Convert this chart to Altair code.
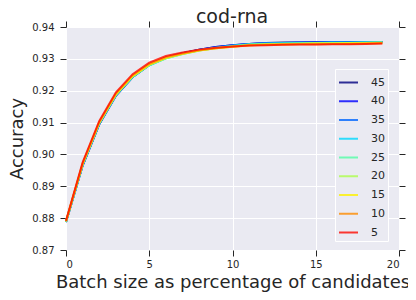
import altair as alt
import pandas as pd

title_text = "cod-rna"
x_vals = list(range(20))
series_names = ["45", "40", "35", "30", "25", "20", "15", "10", "5"]
colors = ["#000080", "#0000ff", "#0066ff", "#00d9ff", "#52ffa6", "#adff4d", "#fff200", "#ff8c00", "#ff0a00"]

s45 = [0.8788,0.8965,0.9095,0.9185,0.9243,0.9281,0.9304,0.9318,0.9329,0.9337,0.9343,0.9347,0.9350,0.9351,0.9351,0.9352,0.9352,0.9353,0.9353,0.9353]
s40 = [0.8788,0.8966,0.9096,0.9185,0.9243,0.9281,0.9304,0.9318,0.9329,0.9337,0.9343,0.9347,0.9349,0.9350,0.9351,0.9352,0.9352,0.9352,0.9353,0.9353]
s35 = [0.8788,0.8966,0.9096,0.9186,0.9243,0.9280,0.9303,0.9317,0.9328,0.9336,0.9342,0.9347,0.9349,0.9350,0.9351,0.9351,0.9352,0.9352,0.9352,0.9353]
s30 = [0.8788,0.8967,0.9097,0.9186,0.9243,0.9280,0.9302,0.9316,0.9327,0.9335,0.9341,0.9346,0.9348,0.9349,0.9350,0.9350,0.9351,0.9351,0.9352,0.9352]
s25 = [0.8789,0.8968,0.9098,0.9187,0.9244,0.9280,0.9302,0.9315,0.9326,0.9334,0.9340,0.9345,0.9347,0.9348,0.9349,0.9350,0.9350,0.9350,0.9351,0.9352]
s20 = [0.8789,0.8969,0.9099,0.9188,0.9245,0.9281,0.9302,0.9315,0.9326,0.9333,0.9339,0.9344,0.9346,0.9347,0.9348,0.9349,0.9349,0.9350,0.9350,0.9351]
s15 = [0.8790,0.8970,0.9100,0.9189,0.9246,0.9282,0.9303,0.9316,0.9326,0.9333,0.9338,0.9343,0.9345,0.9346,0.9347,0.9348,0.9348,0.9349,0.9349,0.9350]
s10 = [0.8790,0.8972,0.9102,0.9191,0.9248,0.9284,0.9305,0.9317,0.9327,0.9333,0.9338,0.9342,0.9344,0.9345,0.9346,0.9346,0.9347,0.9347,0.9348,0.9349]
s5  = [0.8792,0.8975,0.9105,0.9195,0.9252,0.9288,0.9309,0.9320,0.9329,0.9335,0.9339,0.9342,0.9343,0.9344,0.9345,0.9345,0.9346,0.9346,0.9347,0.9348]

all_series = [s45, s40, s35, s30, s25, s20, s15, s10, s5]
rows = []
for k, (name, vals) in enumerate(zip(series_names, all_series)):
    for xv, yv in zip(x_vals, vals):
        rows.append({"x": xv, "acc": yv, "series": name, "k": k})
df = pd.DataFrame(rows)

FONT = "DejaVu Sans"
TXT = "#262626"

xscale = alt.Scale(domain=[0, 20], nice=False)
yscale = alt.Scale(domain=[0.87, 0.94], nice=False, zero=False)

lines = alt.Chart(df).mark_line(strokeWidth=2, opacity=0.8).encode(
    x=alt.X("x:Q", scale=xscale,
            axis=alt.Axis(title="Batch size as percentage of candidates", values=[0, 5, 10, 15, 20],
                          format="d", tickSize=6, labelPadding=3, titlePadding=4)),
    y=alt.Y("acc:Q", scale=yscale,
            axis=alt.Axis(title="Accuracy", values=[0.87, 0.88, 0.89, 0.90, 0.91, 0.92, 0.93, 0.94],
                          format=".2f", tickSize=6, labelPadding=6, titlePadding=5)),
    color=alt.Color("series:N", sort=series_names,
                    scale=alt.Scale(domain=series_names, range=colors),
                    legend=alt.Legend(title=None, orient="none", legendX=269, legendY=42,
                                      fillColor="#EAEAF2", strokeColor="white", padding=3,
                                      symbolType="stroke", symbolStrokeWidth=2, symbolSize=361,
                                      symbolOpacity=0.8, labelFontSize=11, labelOffset=12,
                                      rowPadding=2.75, labelColor=TXT, labelFont=FONT)),
    detail="series:N",
    order=alt.Order("x:Q"),
)

frame = alt.Chart(df).mark_point(opacity=0).encode(
    x=alt.X("x:Q", scale=xscale,
            axis=alt.Axis(orient="top", title=None, labels=False, grid=False,
                          values=[0, 5, 10, 15, 20], tickSize=6)),
    y=alt.Y("acc:Q", scale=yscale,
            axis=alt.Axis(orient="right", title=None, labels=False, grid=False,
                          values=[0.87, 0.88, 0.89, 0.90, 0.91, 0.92, 0.93, 0.94], tickSize=6)),
)

title = alt.Chart(pd.DataFrame({"t": [title_text]})).mark_text(
    font=FONT, fontSize=19, color=TXT, align="center", baseline="alphabetic"
).encode(text="t:N", x=alt.value(166), y=alt.value(-4))

chart = alt.layer(lines, frame, title).resolve_axis(x="independent", y="independent").properties(
    width=333, height=223,
    padding={"left": 58, "top": 19, "right": 9, "bottom": 50},
    autosize="none",
).configure_view(fill="#EAEAF2", strokeWidth=0).configure_axis(
    domain=False, grid=True, gridColor="white", gridWidth=1,
    tickColor=TXT, tickWidth=1, labelFont=FONT, labelFontSize=10, labelColor=TXT,
    titleFont=FONT, titleFontSize=18, titleFontWeight="normal", titleColor=TXT,
)

chart.save("out.html", embed_options={"renderer": "svg", "actions": False})
